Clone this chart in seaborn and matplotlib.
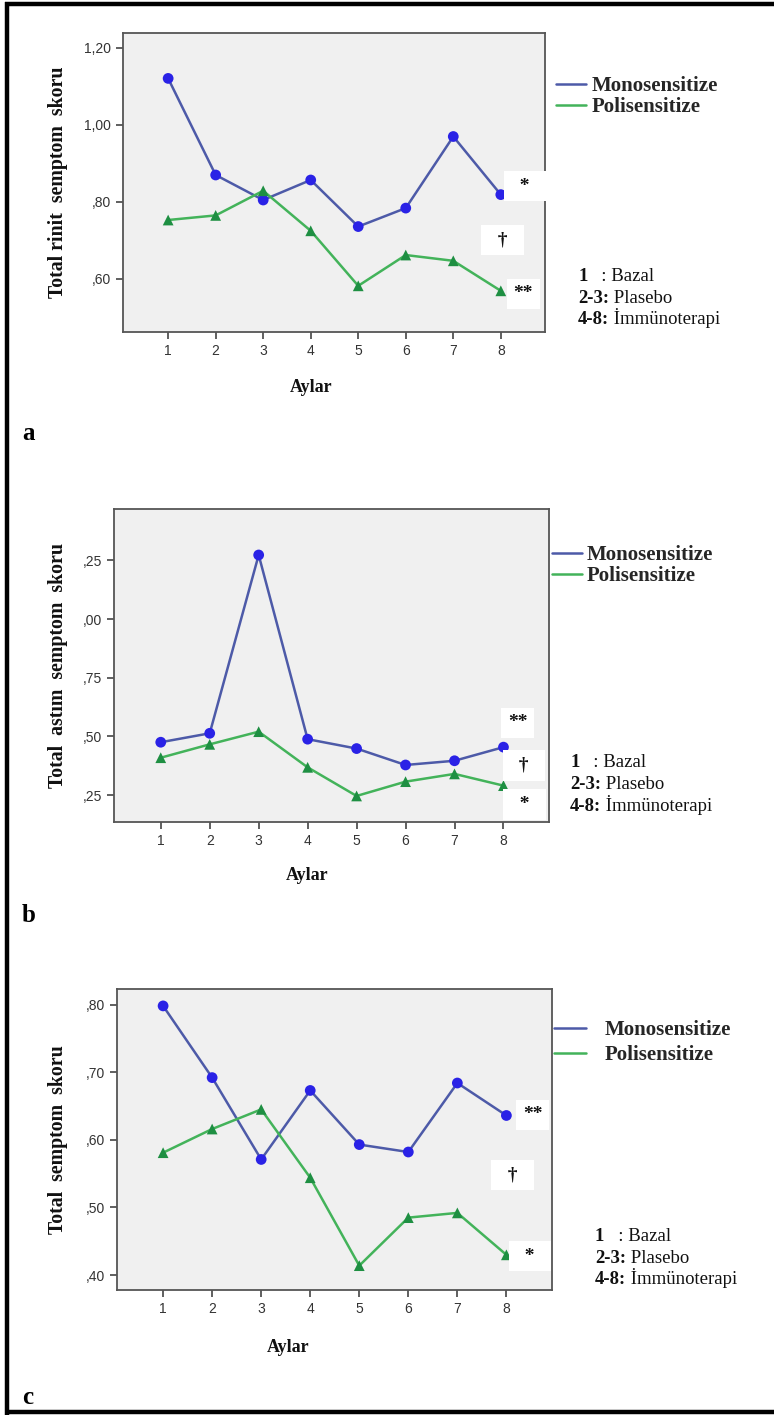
import matplotlib
matplotlib.use("Agg")
import matplotlib.pyplot as plt
import seaborn as sns
import pandas as pd
from matplotlib.lines import Line2D
from matplotlib.font_manager import FontProperties

# ---------------- data ----------------
months = [1, 2, 3, 4, 5, 6, 7, 8]
groups = ["Monosensitize", "Polisensitize"]

rinit_mono = [1.120, 0.869, 0.804, 0.856, 0.735, 0.783, 0.969, 0.818]
rinit_poli = [0.752, 0.764, 0.828, 0.724, 0.581, 0.661, 0.646, 0.568]

astim_mono = [0.475, 0.513, 1.273, 0.488, 0.448, 0.378, 0.396, 0.454]
astim_poli = [0.409, 0.466, 0.520, 0.368, 0.246, 0.307, 0.340, 0.290]

total_mono = [0.798, 0.692, 0.571, 0.673, 0.593, 0.582, 0.684, 0.636]
total_poli = [0.581, 0.616, 0.645, 0.544, 0.414, 0.485, 0.492, 0.430]

ylabels = ["Total rinit  semptom  skoru", "Total  astım  semptom  skoru", "Total  semptom  skoru"]
xlabel = "Aylar"
panel_letters = ["a", "b", "c"]

yticks_a = [0.60, 0.80, 1.00, 1.20]
yticklabels_a = [",60", ",80", "1,00", "1,20"]
yticks_b = [0.25, 0.50, 0.75, 1.00, 1.25]
yticklabels_b = [",25", ",50", ",75", ",00", ",25"]
yticks_c = [0.40, 0.50, 0.60, 0.70, 0.80]
yticklabels_c = [",40", ",50", ",60", ",70", ",80"]

notes = [("1", "   : Bazal"), ("2-3:", " Plasebo"), ("4-8:", " İmmünoterapi")]

sig_a = [("  *  ", 8.51, 0.84), ("  †  ", 8.04, 0.70), ("**", 8.47, 0.56)]
sig_b = [("**", 8.29, 0.557), ("  †  ", 8.42, 0.376), ("  *  ", 8.43, 0.209)]
sig_c = [("**", 8.54, 0.637), ("  †  ", 8.13, 0.548), ("  *  ", 8.48, 0.428)]

# ---------------- style ----------------
W, H = 774, 1416
line_pal = {"Monosensitize": "#4d5aa8", "Polisensitize": "#43b35a"}
mark_pal = {"Monosensitize": "#2a22e6", "Polisensitize": "#1e8f42"}
markers = {"Monosensitize": "o", "Polisensitize": "^"}
serif = "Liberation Serif"
sans = "Liberation Sans"

sns.set_style("white")
plt.rcParams["font.family"] = [sans, "DejaVu Sans"]

fig = plt.figure(figsize=(W / 100, H / 100), dpi=100)
fig.patch.set_facecolor("white")

panels = [
    dict(mono=rinit_mono, poli=rinit_poli, box=(123, 545, 33, 332), ylim=(0.461, 1.238),
         xlim=(0.05, 8.93), yt=yticks_a, ytl=yticklabels_a, sig=sig_a,
         leg=(556, 76, 1.44, 0.25, 0.05), notes=(578, [275, 297, 318]),
         aylar=(311, 388), letter=433),
    dict(mono=astim_mono, poli=astim_poli, box=(114, 549, 509, 822), ylim=(0.135, 1.469),
         xlim=(0.045, 8.93), yt=yticks_b, ytl=yticklabels_b, sig=sig_b,
         leg=(552, 545, 1.44, 0.22, 0.05), notes=(570, [761, 783, 805]),
         aylar=(307, 875), letter=916),
    dict(mono=total_mono, poli=total_poli, box=(117, 552, 989, 1290), ylim=(0.378, 0.823),
         xlim=(0.06, 8.93), yt=yticks_c, ytl=yticklabels_c, sig=sig_c,
         leg=(554, 1020, 1.54, 0.87, 0.25), notes=(595, [1235, 1257, 1278]),
         aylar=(288, 1348), letter=1398),
]

leg_font = FontProperties(family=serif, weight="bold", size=15)

for i, p in enumerate(panels):
    l, r, t, b = p["box"]
    ax = fig.add_axes([l / W, 1 - b / H, (r - l) / W, (b - t) / H])
    df = pd.DataFrame({
        "Ay": months * 2,
        "Skor": list(p["mono"]) + list(p["poli"]),
        "Grup": [groups[0]] * len(months) + [groups[1]] * len(months),
    })
    sns.lineplot(data=df, x="Ay", y="Skor", hue="Grup", palette=line_pal,
                 linewidth=1.8, ax=ax, legend=True, sort=False)
    sns.scatterplot(data=df, x="Ay", y="Skor", hue="Grup", style="Grup",
                    markers=markers, palette=mark_pal, s=60, edgecolor="none",
                    ax=ax, legend=False, zorder=3)
    ax.set_facecolor("#f0f0f0")
    ax.set_xlim(*p["xlim"])
    ax.set_ylim(*p["ylim"])
    ax.set_xticks(months)
    ax.set_xticklabels([str(m) for m in months])
    ax.set_yticks(p["yt"])
    ax.set_yticklabels(p["ytl"])
    ax.set_xlabel("")
    ax.set_ylabel("")
    for s in ax.spines.values():
        s.set_color("#555555")
        s.set_linewidth(1.3)
    ax.tick_params(axis="both", direction="out", length=5, width=1.2,
                   color="#444444", labelcolor="#333333", labelsize=10,
                   left=True, bottom=True)
    for lab in ax.get_xticklabels() + ax.get_yticklabels():
        lab.set_family(sans)

    # significance markers
    for txt, xs, ys in p["sig"]:
        ax.text(xs, ys, txt, ha="center", va="center", family=serif,
                fontweight="bold", fontsize=14, color="#111111", zorder=5,
                bbox=dict(boxstyle="square,pad=0.35", fc="white", ec="none"),
                clip_on=False)

    # legend
    handles, labels = ax.get_legend_handles_labels()
    lx, ly, hl, htp, lsp = p["leg"]
    ax.legend(handles, labels, loc="upper left", bbox_to_anchor=(lx / W, 1 - ly / H),
              bbox_transform=fig.transFigure, frameon=False, prop=leg_font,
              handlelength=hl, handletextpad=htp, labelspacing=lsp,
              borderpad=0, borderaxespad=0)

    # y label
    fig.text(58 / W, 1 - ((t + b) / 2) / H, ylabels[i], rotation=90, ha="center",
             va="center", family=serif, fontweight="bold", fontsize=14.3, color="#111111")
    # x label
    ax_x, ax_y = p["aylar"]
    fig.text(ax_x / W, 1 - ax_y / H, xlabel, ha="center", va="center", family=serif,
             fontweight="bold", fontsize=13, color="#111111")
    # panel letter
    fig.text(22 / W, 1 - p["letter"] / H, panel_letters[i], ha="left", va="center",
             family=serif, fontweight="bold", fontsize=18, color="black")

# notes (bold prefix + regular rest), aligned on a common baseline
fig.canvas.draw()
renderer = fig.canvas.get_renderer()
for p in panels:
    x0, ys = p["notes"]
    for y, (bold, rest) in zip(ys, notes):
        yb = y + 6
        tb = fig.text(x0 / W, 1 - yb / H, bold, ha="left", va="baseline", family=serif,
                      fontweight="bold", fontsize=13.5, color="#111111")
        bb = tb.get_window_extent(renderer)
        fig.text(bb.x1 / W, 1 - yb / H, rest, ha="left", va="baseline", family=serif,
                 fontsize=13.5, color="#111111")

# outer frame
frame_kw = dict(transform=fig.transFigure, color="black", linewidth=3.2, solid_capstyle="butt")
fig.add_artist(Line2D([7 / W, 7 / W], [1 - 2 / H, 1 - 1415 / H], **frame_kw))
fig.add_artist(Line2D([5 / W, 1.0], [1 - 4 / H, 1 - 4 / H], **frame_kw))
fig.add_artist(Line2D([5 / W, 1.0], [1 - 1412 / H, 1 - 1412 / H], **frame_kw))

fig.savefig("out.png", dpi=100, facecolor="white")
